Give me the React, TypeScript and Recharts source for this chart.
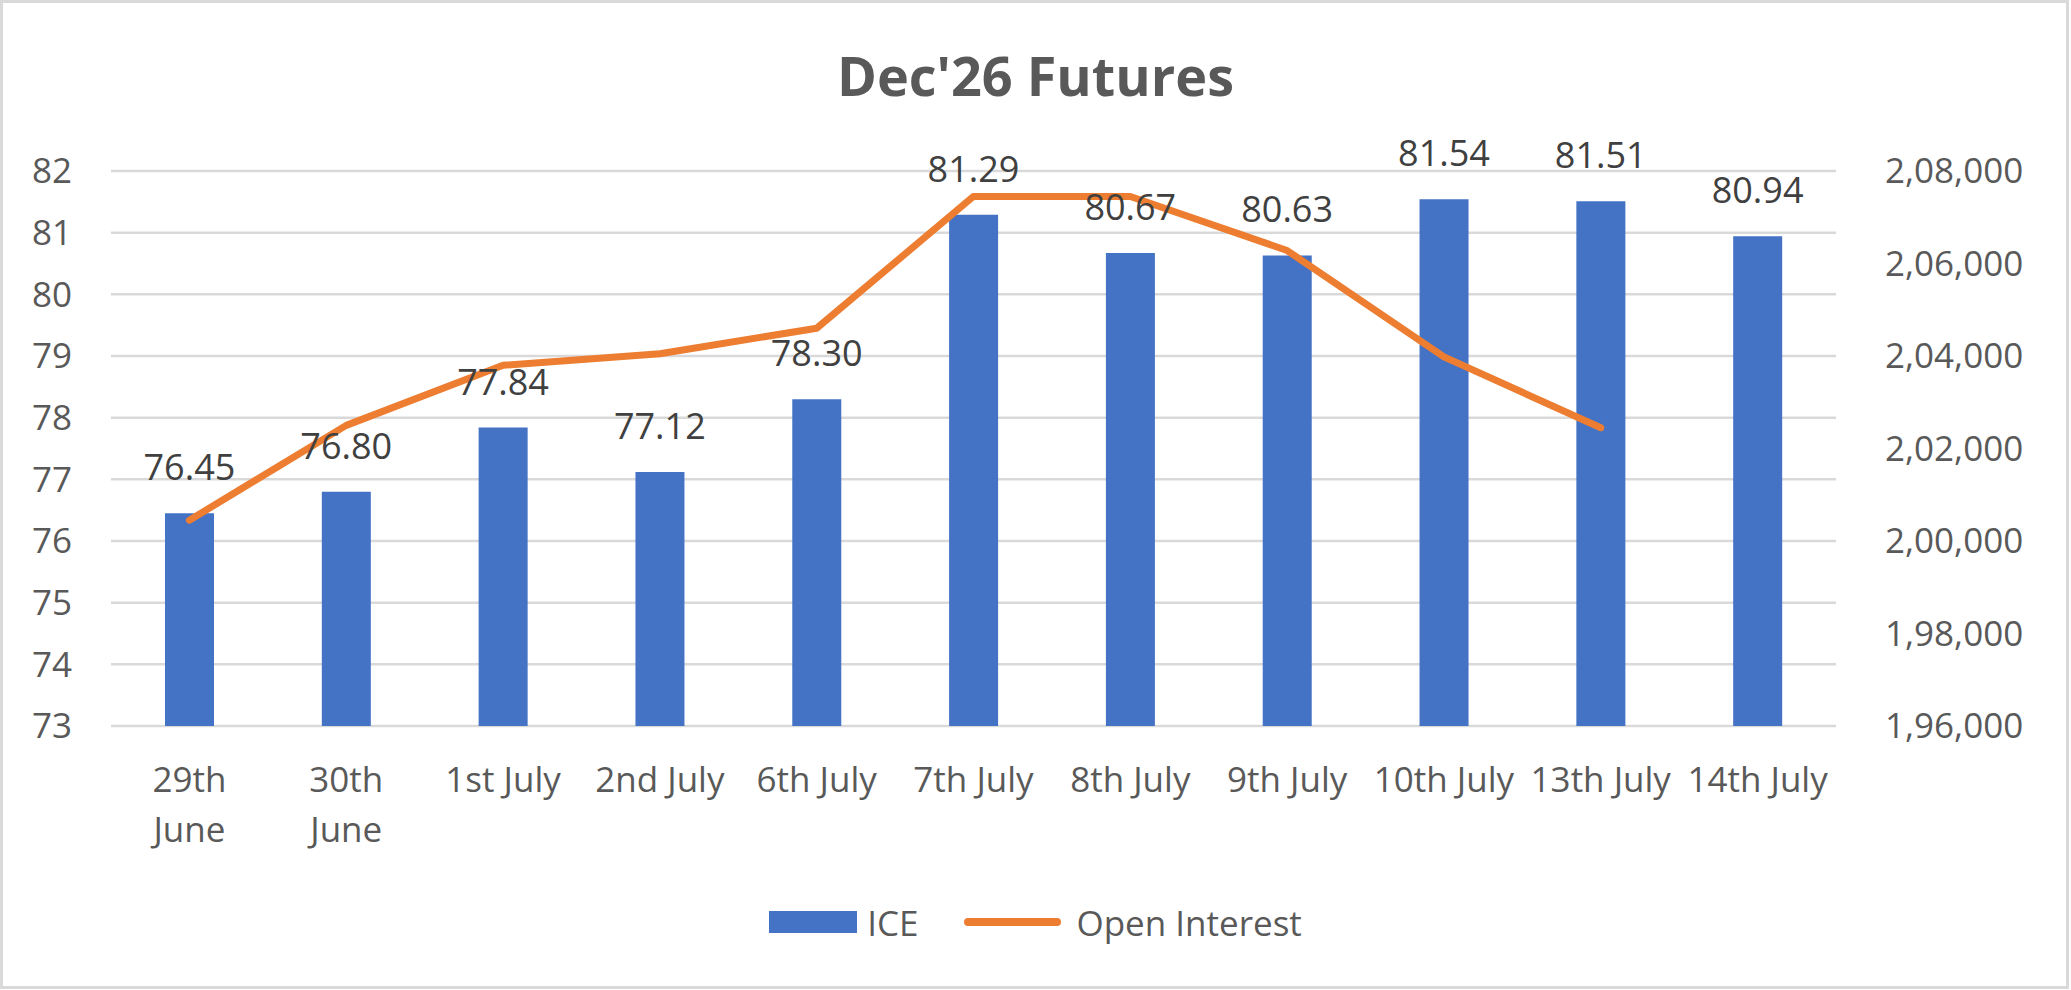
import React from 'react'
import {
  Bar,
  CartesianGrid,
  ComposedChart,
  LabelList,
  Legend,
  Line,
  XAxis,
  YAxis,
} from 'recharts'

const categories = [
  '29th\nJune',
  '30th\nJune',
  '1st July',
  '2nd July',
  '6th July',
  '7th July',
  '8th July',
  '9th July',
  '10th July',
  '13th July',
  '14th July',
]
const iceValues = [76.45, 76.8, 77.84, 77.12, 78.3, 81.29, 80.67, 80.63, 81.54, 81.51, 80.94]
const openInterest = [
  200450, 202500, 203800, 204050, 204600, 207450, 207450, 206280, 203980, 202450, null,
]
const leftTicks = [73, 74, 75, 76, 77, 78, 79, 80, 81, 82]
const rightTicks = [196000, 198000, 200000, 202000, 204000, 206000, 208000]

const data = categories.map((name, i) => ({
  name,
  ice: iceValues[i],
  oi: openInterest[i],
}))

const FONT = '"Open Sans", "Noto Sans", sans-serif'
const AXIS_TEXT = '#595959'

// 2,08,000 style grouping
function formatIndian(n: number) {
  const s = String(Math.round(n))
  const last3 = s.slice(-3)
  let rest = s.slice(0, -3)
  if (!rest) return last3
  const parts: string[] = []
  while (rest.length > 2) {
    parts.unshift(rest.slice(-2))
    rest = rest.slice(0, -2)
  }
  if (rest) parts.unshift(rest)
  return parts.join(',') + ',' + last3
}

function CategoryTick({ x, y, payload }: any) {
  const lines = String(payload.value).split('\n')
  return (
    <text x={x} y={y} textAnchor="middle" fill={AXIS_TEXT} fontSize={35} fontFamily={FONT}>
      {lines.map((line, i) => (
        <tspan key={i} x={x} dy={i === 0 ? 66 : 50}>
          {line}
        </tspan>
      ))}
    </text>
  )
}

function ChartLegend({ payload }: any) {
  const items = (payload || []).filter((p: any) => p.type !== 'none')
  return (
    <div
      style={{
        display: 'flex',
        justifyContent: 'center',
        alignItems: 'center',
        height: 50,
        fontFamily: FONT,
        fontSize: 35,
        color: AXIS_TEXT,
      }}
    >
      {items.map((entry: any) => (
        <div
          key={entry.value}
          style={{ display: 'flex', alignItems: 'center', marginRight: entry.type === 'rect' ? 46 : 0 }}
        >
          {entry.type === 'rect' ? (
            <span style={{ width: 88, height: 22, background: entry.color, marginRight: 10 }} />
          ) : (
            <span
              style={{
                width: 97,
                height: 8,
                borderRadius: 4,
                background: entry.color,
                marginRight: 15,
              }}
            />
          )}
          <span>{entry.value}</span>
        </div>
      ))}
    </div>
  )
}

export default function App() {
  return (
    <div
      style={{
        position: 'absolute',
        left: 0,
        top: 0,
        width: 2071,
        height: 990,
        background: '#ffffff',
      }}
    >
      <div
        style={{
          position: 'absolute',
          left: 0,
          top: 0,
          width: 2069,
          height: 989,
          border: '3px solid #d9d9d9',
          boxSizing: 'border-box',
        }}
      />
      <div
        style={{
          position: 'absolute',
          left: 0,
          top: 40,
          width: 2071,
          textAlign: 'center',
          fontFamily: FONT,
          fontWeight: 700,
          fontSize: 54,
          lineHeight: '70px',
          color: '#595959',
        }}
      >
        Dec'26 Futures
      </div>
      <div style={{ position: 'absolute', left: 0, top: 0 }}>
        <ComposedChart
          width={2071}
          height={990}
          data={data}
          margin={{ top: 171, right: 0, bottom: 164, left: 0 }}
        >
          <CartesianGrid yAxisId="left" vertical={false} stroke="#d9d9d9" strokeWidth={2.5} />
          <XAxis
            dataKey="name"
            axisLine={false}
            tickLine={false}
            tickSize={0}
            tickMargin={0}
            height={100}
            interval={0}
            tick={<CategoryTick />}
          />
          <YAxis
            yAxisId="left"
            orientation="left"
            width={111}
            domain={[73, 82]}
            ticks={leftTicks}
            axisLine={false}
            tickLine={false}
            tickSize={0}
            tickMargin={39}
            tick={{ fill: AXIS_TEXT, fontSize: 35, fontFamily: FONT }}
          />
          <YAxis
            yAxisId="right"
            orientation="right"
            width={235}
            domain={[196000, 208000]}
            ticks={rightTicks}
            axisLine={false}
            tickLine={false}
            tickSize={0}
            tickMargin={49}
            tickFormatter={formatIndian}
            tick={{ fill: AXIS_TEXT, fontSize: 35, fontFamily: FONT, textAnchor: 'start' }}
          />
          <Legend
            layout="horizontal"
            verticalAlign="middle"
            align="center"
            content={<ChartLegend />}
            wrapperStyle={{ top: 897, left: 0, width: 2071 }}
          />
          <Bar
            yAxisId="left"
            dataKey="ice"
            name="ICE"
            fill="#4472c4"
            barSize={49}
            legendType="rect"
            isAnimationActive={false}
          />
          <Line
            yAxisId="right"
            dataKey="oi"
            name="Open Interest"
            type="linear"
            stroke="#ed7d31"
            strokeWidth={7}
            strokeLinecap="round"
            strokeLinejoin="round"
            dot={false}
            activeDot={false}
            legendType="line"
            isAnimationActive={false}
          />
          <Line
            yAxisId="left"
            dataKey="ice"
            name="ice-labels"
            stroke="none"
            dot={false}
            activeDot={false}
            legendType="none"
            isAnimationActive={false}
          >
            <LabelList
              dataKey="ice"
              position="top"
              offset={33}
              fill="#404040"
              fontSize={36}
              fontFamily={FONT}
              formatter={(v: any) => Number(v).toFixed(2)}
            />
          </Line>
        </ComposedChart>
      </div>
    </div>
  )
}
